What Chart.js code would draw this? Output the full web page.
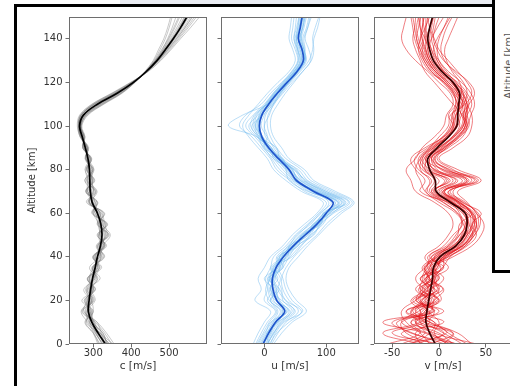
<!DOCTYPE html>
<html>
<head>
<meta charset="utf-8">
<script src="https://cdn.jsdelivr.net/npm/chart.js@4.4.1/dist/chart.umd.min.js"></script>
<style>
  html, body { margin: 0; padding: 0; background: #fff; width: 510px; height: 386px; overflow: hidden; }
  #wrap { position: relative; width: 530px; height: 386px; }
  canvas { position: absolute; top: 0; }
  .deco { position: absolute; z-index: 5; }
  #topStrip { left: 120px; top: 0; width: 373px; height: 4px; background: #eaecf2; }
  #frameTop { left: 14px; top: 4px; width: 479px; height: 3px; background: #000; }
  #frameLeft { left: 14px; top: 4px; width: 3px; height: 382px; background: #000; }
  #insetBox { left: 492px; top: -5px; width: 40px; height: 275px; background: #fff;
              border-left: 3px solid #000; border-bottom: 3px solid #000; }
  #insetLabel { position: absolute; left: 13px; top: 71px; transform: translate(-50%, -50%) rotate(-90deg);
                font: 10px "DejaVu Sans"; color: #555; white-space: nowrap; }
</style>
</head>
<body>
<div id="wrap">
  <canvas id="cPanel" width="215" height="386" style="left:0"></canvas>
  <canvas id="uPanel" width="150" height="386" style="left:215px"></canvas>
  <canvas id="vPanel" width="160" height="386" style="left:365px"></canvas>
  <div class="deco" id="topStrip"></div>
  <div class="deco" id="frameTop"></div>
  <div class="deco" id="frameLeft"></div>
  <div class="deco" id="insetBox"><div id="insetLabel">Altitude [km]</div></div>
</div>
<script>
// Altitude levels (km) shared by every profile
const altitudes = [0,5,10,15,20,25,30,35,40,45,50,55,60,65,70,75,80,85,90,95,100,105,110,115,120,125,130,135,140,145,150];

// Tick values
const altTicks = [0,20,40,60,80,100,120,140];
const cTicks = [300,400,500];
const uTicks = [0,100];
const vTicks = [-50,0,50];

// Sound speed c [m/s]
const cMean = [332,313,296,287,289,293,298,305,311,319,323,320,311,297,292,291,290,286,279,271,264,274,311,363,406,440,468,490,511,530,547];
const cMembers = [
  [348,330,305,270,300,285,318,298,330,312,342,310,330,282,305,278,300,280,286,266,262,270,305,358,404,442,472,497,520,542,562],
  [318,300,278,298,270,305,285,322,300,335,310,338,298,312,280,302,282,295,272,278,266,278,318,368,408,438,464,485,503,520,535],
  [340,322,310,275,285,300,290,300,322,308,336,330,322,288,300,296,298,278,288,268,261,268,300,352,400,440,470,494,516,538,556],
  [325,305,290,300,295,280,300,315,300,330,318,315,300,305,285,285,280,292,275,276,267,281,322,372,410,439,462,480,498,512,525],
  [352,318,288,282,305,295,310,290,318,325,345,322,318,295,310,288,302,286,284,265,260,266,298,350,401,444,476,502,526,550,572],
  [330,320,300,292,278,300,285,310,305,318,315,332,305,300,282,300,288,294,272,275,268,284,326,374,409,437,460,476,490,500,508],
  [315,302,285,268,290,275,305,298,325,315,325,318,325,290,296,278,296,282,285,270,263,272,308,360,405,441,470,493,514,534,551],
  [338,310,300,295,280,300,295,312,306,328,320,312,308,306,290,292,278,290,276,274,265,276,314,366,407,440,466,488,508,526,542],
  [335,325,296,280,298,288,308,302,315,322,332,326,316,290,300,296,294,284,282,268,262,269,302,355,403,443,473,499,523,546,567],
  [322,308,292,290,285,296,290,305,310,330,318,320,310,300,285,290,285,289,278,273,266,279,320,370,409,439,465,484,500,515,528],
  [345,315,304,285,292,282,302,308,320,312,338,312,318,296,306,284,292,280,283,268,261,267,304,357,402,441,471,496,519,541,560],
  [328,312,282,295,284,302,288,316,302,326,314,334,300,310,282,298,284,293,274,276,267,282,324,373,409,438,463,482,496,508,518],
  [355,335,310,272,302,290,312,296,328,310,340,316,328,286,308,282,300,280,286,266,258,264,296,348,398,445,478,505,530,556,580],
  [312,300,280,300,276,306,284,318,298,332,312,336,296,310,280,304,282,296,272,278,270,286,328,376,410,436,458,472,486,496,504],
  [336,326,298,285,296,284,304,300,320,316,334,314,320,290,302,286,298,282,284,268,261,268,302,356,404,442,470,492,512,530,546],
  [326,306,298,292,282,298,292,312,304,328,316,328,304,304,286,298,286,292,275,275,268,280,316,366,406,438,464,486,506,524,540],
  [342,318,290,284,294,290,300,304,316,322,326,324,310,298,294,290,290,286,280,271,263,273,310,362,405,440,468,490,510,528,544],
  [330,310,302,278,296,294,298,306,312,320,330,318,314,294,296,292,290,286,280,270,264,275,312,364,406,441,467,489,509,528,545]
];

// Zonal wind u [m/s]
const uMean = [-2,7,18,33,20,14,13,19,31,47,66,85,100,111,80,52,40,23,7,-4,-8,-4,7,21,37,53,63,61,55,58,61];
const uMembers = [
  [5,15,30,50,28,10,22,12,38,40,72,78,108,130,100,62,48,15,12,-12,-25,-10,2,15,30,45,55,52,48,50,52],
  [-10,0,12,22,10,20,8,25,22,55,60,92,95,120,70,40,35,30,0,5,0,8,15,30,45,62,75,72,66,70,74],
  [8,20,40,60,35,25,15,30,40,52,80,90,112,138,105,70,55,25,20,-8,-15,-5,12,25,40,56,68,64,60,64,68],
  [-14,-5,5,18,0,5,2,10,15,35,50,70,88,100,65,42,20,10,-5,-20,-40,-30,-5,10,28,44,54,50,44,46,48],
  [2,10,22,45,30,28,20,15,45,60,75,95,105,125,92,60,42,28,15,5,-5,0,10,22,36,50,60,58,52,56,60],
  [-5,5,15,28,8,2,10,22,28,42,58,80,96,115,85,48,30,15,-2,-12,-58,-35,5,18,34,50,62,65,62,68,72],
  [12,22,35,55,40,30,28,35,48,65,85,100,120,142,110,75,60,35,20,10,5,6,16,28,42,58,72,78,80,86,90],
  [0,6,20,30,15,12,5,18,25,38,55,72,92,104,78,50,38,18,5,-6,-10,-8,4,18,34,48,58,54,50,54,56],
  [-8,2,10,38,25,18,12,28,35,50,70,88,102,118,85,55,45,28,10,-2,-15,-12,2,16,32,48,60,56,52,54,58],
  [6,14,28,42,18,8,18,10,30,45,62,82,98,132,95,66,50,22,8,-10,-20,-2,14,26,40,55,66,62,58,62,64],
  [-12,-2,8,20,5,15,0,20,20,40,52,75,90,108,72,45,25,12,0,-15,-30,-18,0,14,30,46,56,54,52,58,62],
  [10,18,32,62,45,35,30,24,42,58,78,92,110,128,96,64,52,30,18,2,0,2,14,26,40,54,66,64,60,60,64],
  [-3,8,20,35,12,6,8,14,26,44,64,84,100,112,82,50,36,20,4,-6,-10,-6,6,20,36,52,64,60,54,56,60],
  [3,12,24,40,22,20,14,22,34,50,68,88,104,122,88,58,44,26,10,-3,-8,-4,8,22,38,54,66,64,58,62,66],
  [-18,-10,0,10,-15,-5,-10,0,10,30,45,65,85,95,60,35,15,5,-10,-25,-35,-25,-10,5,22,40,50,46,40,42,44],
  [15,28,45,68,52,40,35,40,55,70,88,105,125,145,115,80,65,40,28,15,10,12,22,34,48,62,76,80,78,82,88],
  [-6,4,14,26,10,24,6,30,24,48,62,90,98,126,90,58,40,22,6,-8,-18,-14,4,18,34,50,62,58,56,62,66],
  [4,16,26,48,34,22,26,18,36,54,74,86,106,120,84,54,46,24,12,-4,-12,-6,10,24,38,52,64,62,56,58,62],
  [-2,10,18,36,20,10,16,26,30,46,64,82,96,136,100,68,48,26,8,-6,-14,-8,6,20,36,52,64,66,64,70,76],
  [8,4,22,30,24,16,10,16,28,42,60,80,102,114,76,48,34,18,2,-10,-22,-16,4,16,32,48,58,54,48,52,56]
];

// Meridional wind v [m/s]
const vMean = [-4,-10,-14,-13,-11,-9,-7,-6,1,18,27,30,28,12,-3,-4,-10,-12,-2,10,19,20,21,22,15,3,-6,-10,-12,-10,-7];
const vMembers = [
  [20,-30,-45,-5,-20,-15,0,-10,10,30,40,35,45,25,15,30,10,-5,10,25,30,25,15,5,-5,-15,-20,-25,-28,-26,-25],
  [-25,5,-20,-30,0,-20,-15,5,-10,5,15,25,18,0,-15,-20,-25,-20,-10,0,10,12,28,35,30,20,10,0,-5,-10,-12],
  [10,-15,-60,-10,-5,5,-10,-15,5,25,35,40,30,20,10,40,5,-15,0,15,25,30,35,30,20,5,-5,-10,-15,-20,-22],
  [-15,-40,5,-25,-15,-5,-20,0,-5,10,20,22,35,10,-20,-15,-25,-30,-15,5,15,10,18,15,5,-10,-18,-22,-20,-15,-10],
  [5,15,-25,-20,-30,-10,5,-5,15,35,45,48,40,30,20,45,20,0,15,30,35,35,30,25,15,0,-8,-12,-8,-2,5],
  [-30,-10,-5,-35,-10,-25,-12,-8,-15,0,10,15,10,-5,-25,-30,-35,-25,-18,-5,5,8,15,12,0,-12,-25,-35,-40,-38,-35],
  [15,0,-30,5,-25,0,-5,10,0,20,30,38,35,22,5,25,-5,-10,5,18,28,28,32,28,18,8,0,-2,0,5,10],
  [-20,-25,-10,-15,0,-15,-25,-15,-5,15,25,30,25,8,-10,-5,-15,-12,-5,8,18,22,25,22,12,-2,-10,-15,-18,-18,-16],
  [0,-50,-15,-5,-15,-8,-2,-5,8,22,32,34,32,18,0,15,-2,-8,3,14,22,20,22,20,14,5,-2,-5,-8,-6,-4],
  [30,10,-5,-20,-8,-18,-8,2,-8,12,22,28,20,5,-12,-10,-20,-18,-8,6,14,16,20,24,22,14,8,6,10,15,20],
  [-10,-20,-35,-40,-25,-12,-18,-12,2,25,38,42,40,28,12,35,15,-2,8,22,32,30,28,18,6,-8,-16,-20,-24,-26,-28],
  [8,-5,0,-12,-18,-2,-6,4,12,28,36,32,28,15,-5,8,-10,-18,-6,10,20,24,32,38,32,18,5,-2,-6,-4,0],
  [-5,-35,-40,-8,-12,-20,-10,-18,-2,18,28,36,38,20,2,20,-8,-12,2,16,26,26,24,16,6,-6,-14,-18,-16,-14,-12],
  [25,5,-15,-25,-5,-8,-14,-2,4,20,30,26,22,12,-8,0,-18,-22,-10,4,12,14,20,18,8,-4,-12,-18,-22,-24,-22],
  [-40,-15,-25,0,-22,-14,-4,-6,6,24,34,38,34,24,6,30,2,-6,6,20,30,34,38,34,24,10,0,-6,-2,5,12],
  [12,-8,-20,-18,2,-4,-16,-10,-4,14,26,30,26,14,-6,10,-12,-14,-4,10,18,18,22,20,10,-4,-12,-16,-20,-18,-16],
  [-55,-20,-30,-15,-10,-22,-6,-12,-8,16,24,28,30,10,-8,12,-14,-20,-8,8,16,18,24,26,16,2,-8,-12,-14,-16,-18],
  [35,20,-10,-30,-12,0,-14,4,6,26,34,40,36,22,4,38,8,-4,8,22,30,28,26,20,10,-2,-10,-14,-18,-20,-20],
  [-20,-60,-20,-10,-28,-6,-10,-14,-2,10,22,30,28,16,-2,18,-6,-10,0,14,24,26,28,22,14,4,-4,-8,-12,-14,-14],
  [18,-12,-40,-22,-6,-16,0,-4,10,28,38,44,42,26,10,42,12,-8,4,20,28,24,20,14,4,-8,-16,-22,-26,-28,-30],
  [-35,8,-10,-28,-18,-10,-20,-6,-12,8,18,24,20,4,-14,-8,-22,-26,-12,4,14,18,26,30,26,16,6,2,4,8,14],
  [6,-28,-50,-6,-24,-18,-8,-2,4,22,30,36,34,20,4,28,-4,-14,0,16,26,28,30,26,18,6,-2,-8,-10,-8,-6],
  [-8,15,-15,-35,-2,-12,-4,-16,0,18,28,32,28,14,-4,6,-16,-16,-6,8,16,14,18,16,8,-4,-14,-20,-24,-22,-20],
  [40,-5,-25,-12,-20,4,-12,-8,8,24,36,40,36,22,6,32,4,-8,6,20,28,30,30,24,14,0,-10,-14,-14,-10,-6]
];

const FONT = 'DejaVu Sans';
const TEXT = '#333333';
const SPINE = '#6e6e6e';

// Draw the full rectangular frame around each plot area
const boxFrame = {
  id: 'boxFrame',
  afterDraw(chart) {
    const { ctx, chartArea: a } = chart;
    ctx.save();
    ctx.strokeStyle = SPINE;
    ctx.lineWidth = 1;
    ctx.strokeRect(Math.round(a.left) + 0.5, Math.round(a.top) + 0.5,
                   Math.round(a.right - a.left) - 1, Math.round(a.bottom - a.top) - 1);
    ctx.restore();
  }
};

function profile(values) {
  return values.map((v, i) => ({ x: v, y: altitudes[i] }));
}

function makePanel(id, cfg) {
  const datasets = [{
    data: profile(cfg.mean),
    borderColor: cfg.meanColor,
    borderWidth: 1.7,
    pointRadius: 0,
    tension: 0.35,
    showLine: true
  }];
  cfg.members.forEach(m => datasets.push({
    data: profile(m),
    borderColor: cfg.memberColor,
    borderWidth: 1,
    pointRadius: 0,
    tension: cfg.tension,
    showLine: true
  }));

  return new Chart(document.getElementById(id), {
    type: 'scatter',
    data: { datasets },
    plugins: [boxFrame],
    options: {
      responsive: false,
      animation: false,
      devicePixelRatio: 1,
      layout: { padding: cfg.padding },
      plugins: { legend: { display: false }, tooltip: { enabled: false } },
      scales: {
        x: {
          type: 'linear',
          min: cfg.xMin, max: cfg.xMax,
          afterBuildTicks: s => { s.ticks = cfg.xTicks.map(v => ({ value: v })); },
          afterFit: s => { s.height = 33; },
          border: { display: false },
          grid: { drawOnChartArea: false, drawTicks: true, tickLength: 3.5, color: SPINE, tickWidth: 1 },
          ticks: { font: { family: FONT, size: 10 }, color: TEXT, padding: 0, maxRotation: 0, autoSkip: false },
          title: { display: true, text: cfg.xTitle, color: TEXT, font: { family: FONT, size: 10.5 }, padding: { top: 4, bottom: 4 } }
        },
        y: {
          type: 'linear',
          min: 0, max: 150,
          afterBuildTicks: s => { s.ticks = altTicks.map(v => ({ value: v })); },
          afterFit: s => { s.width = cfg.yWidth; },
          border: { display: false },
          grid: { drawOnChartArea: false, drawTicks: true, tickLength: 3.5, color: SPINE, tickWidth: 1 },
          ticks: {
            font: { family: FONT, size: 10 }, color: TEXT, padding: 3, autoSkip: false,
            callback: v => cfg.yLabels ? String(v) : ''
          },
          title: { display: cfg.yLabels, text: 'Altitude [km]', color: TEXT, font: { family: FONT, size: 10 }, padding: { top: 4, bottom: 4 } }
        }
      }
    }
  });
}

makePanel('cPanel', {
  mean: cMean, members: cMembers,
  meanColor: '#000000', memberColor: 'rgba(120,120,120,0.4)', tension: 0.35,
  xMin: 236, xMax: 600, xTicks: cTicks, xTitle: 'c [m/s]',
  yLabels: true, yWidth: 47,
  padding: { left: 22, right: 8, top: 17, bottom: 9 }
});

makePanel('uPanel', {
  mean: uMean, members: uMembers,
  meanColor: '#1f55cc', memberColor: 'rgba(120,190,240,0.5)', tension: 0.35,
  xMin: -70, xMax: 153, xTicks: uTicks, xTitle: 'u [m/s]',
  yLabels: false, yWidth: 6,
  padding: { left: 0, right: 6, top: 17, bottom: 9 }
});

makePanel('vPanel', {
  mean: vMean, members: vMembers,
  meanColor: '#3a0000', memberColor: 'rgba(225,20,25,0.55)', tension: 0.4,
  xMin: -69.5, xMax: 78, xTicks: vTicks, xTitle: 'v [m/s]',
  yLabels: false, yWidth: 9,
  padding: { left: 0, right: 13, top: 17, bottom: 9 }
});
</script>
</body>
</html>
